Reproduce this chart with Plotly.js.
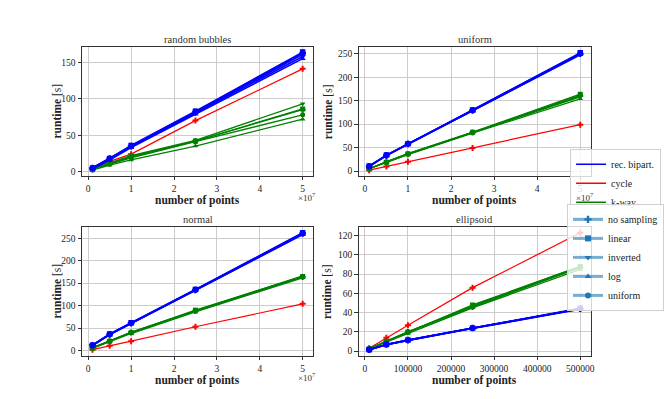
<!DOCTYPE html>
<html>
<head>
<meta charset="utf-8">
<script src="https://cdn.plot.ly/plotly-3.0.1.min.js"></script>
<style>
  html, body { margin: 0; padding: 0; background: #fff; }
  #chart { width: 664px; height: 399px; }
</style>
</head>
<body>
<div id="chart"></div>
<script>
// point counts (x values)
var sizesLarge = [1e6, 5e6, 1e7, 2.5e7, 5e7];
var sizesSmall = [1e4, 5e4, 1e5, 2.5e5, 5e5];
var largeTickVals = [0, 1e7, 2e7, 3e7, 4e7, 5e7];
var largeTickText = ['0', '1', '2', '3', '4', '5'];
var smallTickVals = [0, 1e5, 2e5, 3e5, 4e5, 5e5];
var smallTickText = ['0', '100000', '200000', '300000', '400000', '500000'];

var methods = ['rec. bipart.', 'cycle', 'k-way'];
var samplings = ['no sampling', 'linear', 'inverted', 'log', 'uniform'];
var panelTitles = ['random bubbles', 'uniform', 'normal', 'ellipsoid'];

// runtimes [s], one row per sampling (order as in samplings)
var bubblesRec = [
    [5, 18, 35, 82, 163],
    [5, 18, 36, 83, 164],
    [4, 17, 34, 80, 158],
    [4, 16, 33, 79, 155],
    [5, 18, 35, 81, 161]
];
var bubblesCycle = [3, 14, 24, 70, 141];
var bubblesKway = [
    [3, 11, 20, 42, 85],
    [3, 11, 21, 42, 86],
    [3, 12, 22, 43, 93],
    [2, 9, 16, 35, 72],
    [3, 10, 19, 41, 78]
];

var uniformRec = [
    [10, 33, 58, 129, 250],
    [11, 34, 58, 130, 252],
    [10, 33, 57, 129, 249],
    [10, 33, 57, 128, 248],
    [10, 34, 58, 130, 251]
];
var uniformCycle = [2, 10, 20, 49, 99];
var uniformKway = [
    [5, 19, 36, 82, 160],
    [5, 19, 37, 83, 164],
    [5, 20, 37, 82, 158],
    [5, 19, 35, 81, 154],
    [5, 19, 36, 82, 162]
];

var normalRec = [
    [12, 36, 61, 135, 261],
    [12, 37, 62, 136, 262],
    [12, 36, 61, 134, 259],
    [11, 35, 60, 134, 258],
    [12, 36, 61, 135, 260]
];
var normalCycle = [2, 11, 21, 53, 104];
var normalKway = [
    [6, 21, 40, 88, 164],
    [6, 21, 40, 90, 165],
    [6, 21, 41, 89, 166],
    [5, 20, 38, 86, 162],
    [6, 21, 40, 88, 164]
];

var ellipsoidRec = [
    [1.5, 7, 11.5, 24, 44],
    [1.5, 7, 11.5, 24, 44.5],
    [1.5, 6.8, 11.2, 23.8, 43.8],
    [1.4, 6.7, 11, 23.5, 43.5],
    [1.5, 7, 11.5, 24, 44]
];
var ellipsoidCycle = [3, 14, 27, 66, 123];
var ellipsoidKway = [
    [2.5, 10, 20, 46, 87],
    [2.5, 10, 20, 48, 88],
    [2.5, 10, 20, 47, 88],
    [2.4, 9.5, 19, 45, 85],
    [2.5, 10, 20, 46, 87]
];

var serif = 'Liberation Serif';
var colors = {'rec. bipart.': '#0000ff', 'cycle': '#ff0000', 'k-way': '#008000'};
var widths = {'rec. bipart.': 1.6, 'cycle': 1.2, 'k-way': 1.3};
var symbols = ['cross', 'square', 'triangle-down', 'triangle-up', 'circle'];

var panels = [
    {x: sizesLarge, rec: bubblesRec, cycle: bubblesCycle, kway: bubblesKway},
    {x: sizesLarge, rec: uniformRec, cycle: uniformCycle, kway: uniformKway},
    {x: sizesLarge, rec: normalRec, cycle: normalCycle, kway: normalKway},
    {x: sizesSmall, rec: ellipsoidRec, cycle: ellipsoidCycle, kway: ellipsoidKway}
];

var data = [];
panels.forEach(function (p, i) {
    var xa = i === 0 ? 'x' : 'x' + (i + 1);
    var ya = i === 0 ? 'y' : 'y' + (i + 1);
    function add(method, ys, s) {
        data.push({
            x: p.x, y: ys, xaxis: xa, yaxis: ya,
            type: 'scatter', mode: 'lines+markers', showlegend: false,
            line: {color: colors[method], width: widths[method]},
            marker: {color: colors[method], symbol: symbols[s], size: method === 'rec. bipart.' ? 5.5 : 5},
            name: method + ' ' + samplings[s]
        });
    }
    // drawing order: cycle, k-way, rec. bipart.
    add('cycle', p.cycle, 0);
    p.kway.forEach(function (ys, s) { add('k-way', ys, s); });
    p.rec.forEach(function (ys, s) { add('rec. bipart.', ys, s); });
});

// legend entries
methods.forEach(function (m) {
    data.push({x: [null], y: [null], type: 'scatter', mode: 'lines', name: m,
        line: {color: colors[m], width: 1.5}, legend: 'legend', showlegend: true});
});
samplings.forEach(function (s, k) {
    data.push({x: [null], y: [null], type: 'scatter', mode: 'lines+markers', name: s,
        line: {color: 'rgba(31,119,180,0.6)', width: 3},
        marker: {color: '#1f77b4', symbol: symbols[k], size: 6},
        legend: 'legend2', showlegend: true});
});

var colX = [[0.125, 0.4774], [0.5467, 0.9006]];
var rowY = [[0.5589, 0.8822], [0.1078, 0.4311]];
var yRanges = [[-6, 171], [-10.5, 264.5], [-12, 275], [-5, 129]];
var yDtick = [50, 50, 50, 20];

function axisBase() {
    return {
        showline: true, mirror: true, linecolor: '#333', linewidth: 1,
        ticks: 'outside', ticklen: 3.5, tickcolor: '#333',
        showgrid: true, gridcolor: '#cccccc', gridwidth: 1, zeroline: false,
        tickfont: {family: serif, size: 9.5, color: '#222'}
    };
}

var layout = {
    width: 664, height: 399,
    margin: {l: 0, r: 0, t: 0, b: 0},
    paper_bgcolor: '#fff', plot_bgcolor: '#fff',
    font: {family: serif},
    annotations: [],
    legend: {
        x: 0.869, y: 0.627, xanchor: 'left', yanchor: 'top',
        bgcolor: 'rgba(255,255,255,0.8)', bordercolor: '#d0d0d0', borderwidth: 1,
        font: {family: serif, size: 10, color: '#222'}, tracegroupgap: 0, itemwidth: 30
    },
    legend2: {
        x: 0.8645, y: 0.489, xanchor: 'left', yanchor: 'top',
        bgcolor: 'rgba(255,255,255,0.8)', bordercolor: '#d0d0d0', borderwidth: 1,
        font: {family: serif, size: 10, color: '#222'}, tracegroupgap: 0, itemwidth: 30
    }
};

for (var i = 0; i < 4; i++) {
    var col = i % 2, row = Math.floor(i / 2);
    var sfx = i === 0 ? '' : String(i + 1);
    var xd = colX[col], yd = rowY[row];
    var small = i === 3;
    var xax = axisBase();
    xax.domain = xd;
    xax.anchor = 'y' + sfx;
    xax.range = small ? [-14500, 524500] : [-1.45e6, 5.245e7];
    xax.tickvals = small ? smallTickVals : largeTickVals;
    xax.ticktext = small ? smallTickText : largeTickText;
    var yax = axisBase();
    yax.domain = yd;
    yax.anchor = 'x' + sfx;
    yax.range = yRanges[i];
    yax.dtick = yDtick[i];
    yax.tick0 = 0;
    layout['xaxis' + sfx] = xax;
    layout['yaxis' + sfx] = yax;

    var xc = (xd[0] + xd[1]) / 2, yc = (yd[0] + yd[1]) / 2;
    layout.annotations.push({
        text: panelTitles[i], xref: 'paper', yref: 'paper', x: xc, y: yd[1],
        xanchor: 'center', yanchor: 'bottom', yshift: 0, showarrow: false,
        font: {family: serif, size: 10.5, color: '#333'}
    });
    layout.annotations.push({
        text: '<b>number of points</b>', xref: 'paper', yref: 'paper', x: xc, y: yd[0],
        xanchor: 'center', yanchor: 'top', yshift: -16, showarrow: false,
        font: {family: serif, size: 11.5, color: '#222'}
    });
    layout.annotations.push({
        text: '<b>runtime</b> [s]', xref: 'paper', yref: 'paper', x: xd[0], y: yc,
        xanchor: 'center', yanchor: 'middle', xshift: col === 0 ? -25 : -31,
        textangle: -90, showarrow: false,
        font: {family: serif, size: 11.5, color: '#222'}
    });
    if (!small) {
        layout.annotations.push({
            text: '×10<sup>7</sup>', xref: 'paper', yref: 'paper', x: xd[1], y: yd[0],
            xanchor: 'right', yanchor: 'top', yshift: -13, xshift: 4, showarrow: false,
            font: {family: serif, size: 9, color: '#333'}
        });
    }
}

Plotly.newPlot('chart', data, layout, {displayModeBar: false, staticPlot: true});
</script>
</body>
</html>
